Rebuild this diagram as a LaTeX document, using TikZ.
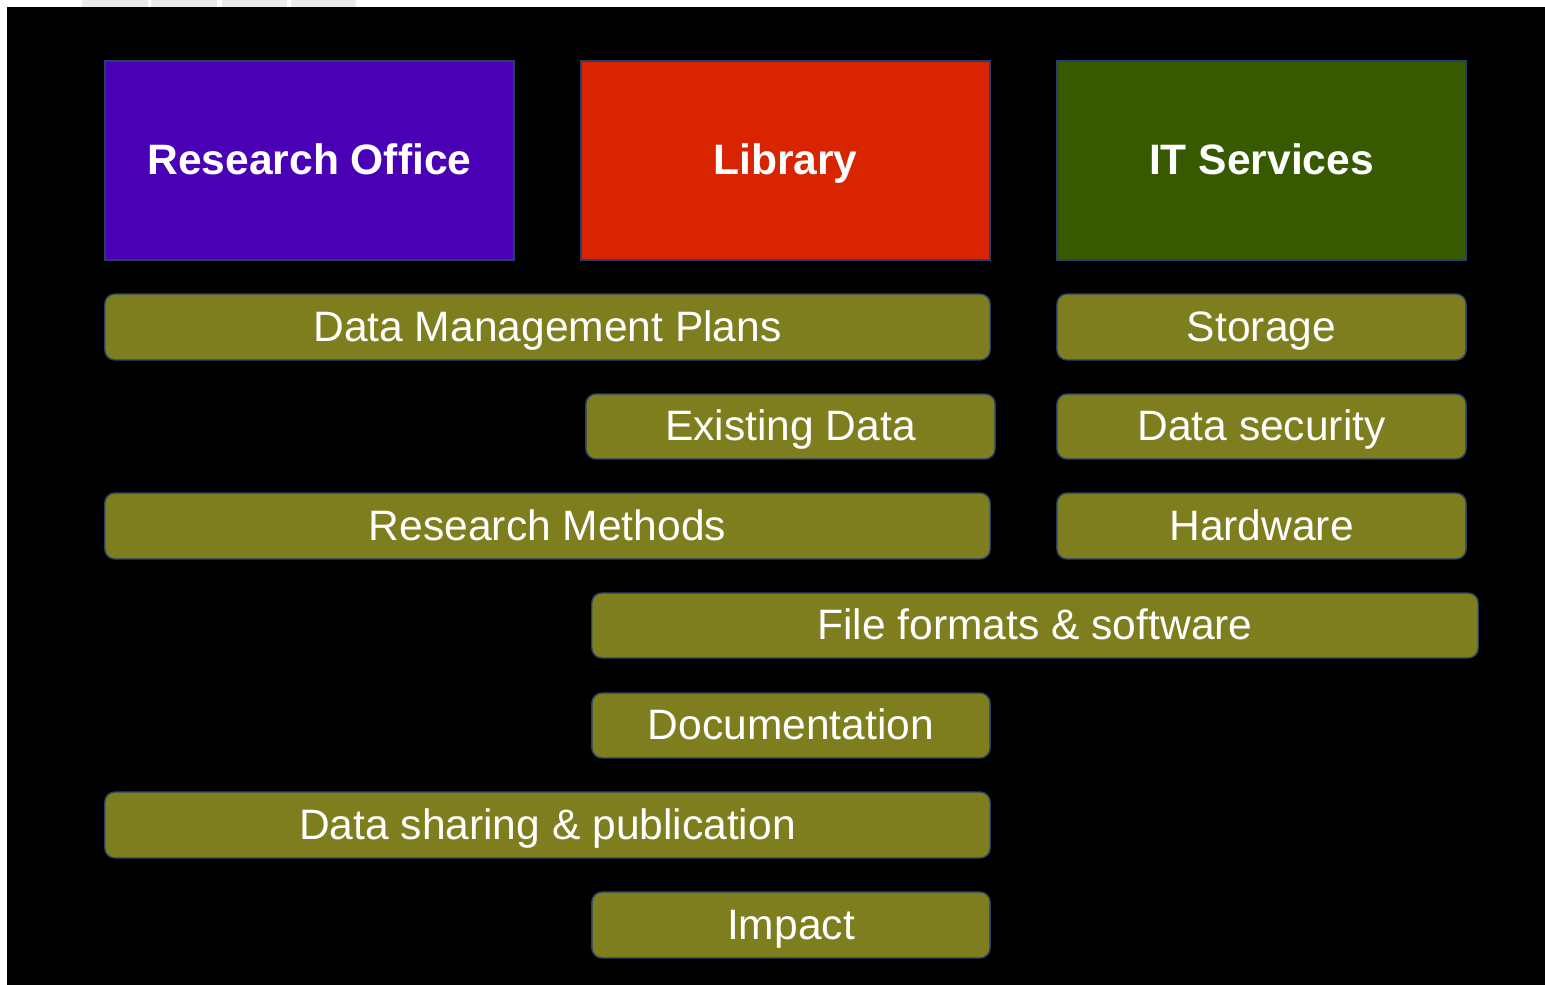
\documentclass[tikz,border=0pt]{standalone}
\usepackage{fontspec}
\setmainfont{Liberation Sans}
\definecolor{ropurple}{HTML}{4A00B4}
\definecolor{libred}{HTML}{D82400}
\definecolor{itgreen}{HTML}{375A00}
\definecolor{olivebox}{HTML}{7F7E1E}
\definecolor{edgeblue}{HTML}{27406A}
\definecolor{tabgray}{HTML}{EBEBEB}
\begin{document}
\begin{tikzpicture}[x={(0.01cm,0)},y={(0,-0.01cm)},
  header/.style={draw=edgeblue,line width=0.4pt,inner sep=0pt,outer sep=0pt,
    minimum width=4.09cm,minimum height=1.99cm,text=white,
    text height=0.81em,text depth=0pt,
    font=\fontsize{12.1}{14}\selectfont\bfseries},
  topic/.style={draw=edgeblue,line width=0.4pt,fill=olivebox,rounded corners=0.1cm,
    inner sep=0pt,outer sep=0pt,text=white,text height=0.81em,text depth=0pt,
    font=\fontsize{12.1}{14}\selectfont}]
\useasboundingbox (0,0) rectangle (1545,985);
\fill[white] (0,0) rectangle (1545,985);
\fill[black] (7,7) rectangle (1545,985);
\foreach \a/\b in {82/148,151/217,222/287,291/356}{
  \fill[tabgray] (\a,0) rectangle (\b,7);}
\node[header,fill=ropurple] (ro)  at (309.5,160.5) {Research Office};
\node[header,fill=libred]   (lib) at (785.5,160.5) {Library};
\node[header,fill=itgreen]  (its) at (1261.5,160.5) {IT Services};
\node[topic,minimum width=8.85cm,minimum height=0.66cm] (dmp) at (547.5,327) {Data Management Plans};
\node[topic,minimum width=4.09cm,minimum height=0.66cm] (sto) at (1261.5,327) {Storage};
\node[topic,minimum width=4.09cm,minimum height=0.65cm] (ed)  at (790.5,426.5) {Existing Data};
\node[topic,minimum width=4.09cm,minimum height=0.65cm] (dsec) at (1261.5,426.5) {Data security};
\node[topic,minimum width=8.85cm,minimum height=0.66cm] (rm)  at (547.5,526) {Research Methods};
\node[topic,minimum width=4.09cm,minimum height=0.66cm] (hw)  at (1261.5,526) {Hardware};
\node[topic,minimum width=8.86cm,minimum height=0.65cm] (ff)  at (1035,625.5) {File formats \& software};
\node[topic,minimum width=3.98cm,minimum height=0.65cm] (doc) at (791,725.5) {Documentation};
\node[topic,minimum width=8.85cm,minimum height=0.66cm] (dsp) at (547.5,825) {Data sharing \& publication};
\node[topic,minimum width=3.98cm,minimum height=0.66cm] (imp) at (791,925) {Impact};
\end{tikzpicture}
\end{document}
